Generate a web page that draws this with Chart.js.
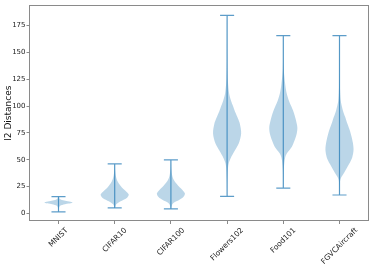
<!DOCTYPE html>
<html>
<head>
<meta charset="utf-8">
<script src="https://cdn.jsdelivr.net/npm/chart.js@4/dist/chart.umd.min.js"></script>
<style>
  html, body { margin: 0; padding: 0; background: #fff; }
  #wrap { width: 374px; height: 267px; }
</style>
</head>
<body>
<div id="wrap"><canvas id="violins"></canvas></div>
<script>
// categories and whisker ends (min / max)
const categories = ['MNIST', 'CIFAR10', 'CIFAR100', 'Flowers102', 'Food101', 'FGVCAircraft'];
const positions = [1, 2, 3, 4, 5, 6];
const minValues = [1.5, 5.2, 4.3, 16, 23.7, 17.2];
const maxValues = [15.7, 46.3, 50, 184.5, 165.7, 165.7];
const yTicks = [0, 25, 50, 75, 100, 125, 150, 175];

// violin outlines: value levels + relative half-width (1 = widest)
const mnistLevels = [1.5, 5, 7, 8.5, 10.2, 12, 13.5, 15.7];
const mnistDensity = [0.01, 0.03, 0.1, 0.45, 1, 0.4, 0.1, 0.02];
const cifar10Levels = [5.2, 8, 10, 12.5, 15, 17.6, 20, 23, 26, 30, 35, 40, 46.3];
const cifar10Density = [0.02, 0.08, 0.25, 0.6, 0.9, 1, 0.85, 0.6, 0.4, 0.2, 0.08, 0.03, 0.01];
const cifar100Levels = [4.3, 8, 10, 12.5, 15.5, 18.5, 21.5, 24.5, 27.5, 31, 35, 42, 50];
const cifar100Density = [0.02, 0.08, 0.2, 0.58, 0.9, 1, 0.85, 0.62, 0.42, 0.22, 0.1, 0.03, 0.01];
const flowersLevels = [16, 30, 42, 47, 52, 58, 65, 74.6, 84, 89, 95, 100, 105, 112, 125, 145, 184.5];
const flowersDensity = [0.01, 0.02, 0.06, 0.12, 0.27, 0.52, 0.82, 1, 0.9, 0.76, 0.56, 0.42, 0.28, 0.14, 0.05, 0.02, 0.01];
const foodLevels = [23.7, 40, 48, 52, 56, 62, 68, 74, 80.2, 88, 95, 100, 105, 112, 120, 135, 165.7];
const foodDensity = [0.01, 0.03, 0.08, 0.13, 0.26, 0.6, 0.8, 0.95, 1, 0.88, 0.72, 0.56, 0.4, 0.24, 0.14, 0.03, 0.01];
const fgvcLevels = [17.2, 28, 32, 36, 40, 46, 52, 59.3, 66, 72, 78, 84, 90, 96, 105, 120, 140, 165.7];
const fgvcDensity = [0.01, 0.03, 0.07, 0.24, 0.42, 0.68, 0.9, 1, 0.95, 0.85, 0.72, 0.55, 0.4, 0.24, 0.09, 0.03, 0.015, 0.01];

const allLevels = [mnistLevels, cifar10Levels, cifar100Levels, flowersLevels, foodLevels, fgvcLevels];
const allDensity = [mnistDensity, cifar10Density, cifar100Density, flowersDensity, foodDensity, fgvcDensity];

const halfWidth = 0.25;   // widest point of each violin
const capHalf = 0.125;    // whisker caps
const bodyFill = 'rgba(31,119,180,0.3)';
const lineColor = 'rgba(31,119,180,0.72)';

// build closed outline for each violin
function outline(i) {
  const p = positions[i], lv = allLevels[i], dn = allDensity[i];
  const pts = [];
  for (let k = 0; k < lv.length; k++) pts.push({ x: p + halfWidth * dn[k], y: lv[k] });
  for (let k = lv.length - 1; k >= 0; k--) pts.push({ x: p - halfWidth * dn[k], y: lv[k] });
  return pts;
}

// stem + two caps, broken with null gaps
function whiskers(i) {
  const p = positions[i];
  return [
    { x: p, y: minValues[i] }, { x: p, y: maxValues[i] }, { x: p, y: null },
    { x: p - capHalf, y: minValues[i] }, { x: p + capHalf, y: minValues[i] }, { x: p, y: null },
    { x: p - capHalf, y: maxValues[i] }, { x: p + capHalf, y: maxValues[i] }
  ];
}

const datasets = [];
categories.forEach((c, i) => {
  datasets.push({
    label: c + ' lines',
    data: whiskers(i),
    borderColor: lineColor,
    borderWidth: 1.2,
    pointRadius: 0,
    spanGaps: false,
    fill: false,
    order: 0
  });
  datasets.push({
    label: c,
    data: outline(i),
    borderColor: 'rgba(0,0,0,0)',
    backgroundColor: bodyFill,
    pointRadius: 0,
    tension: 0.3,
    fill: 'shape',
    order: 1
  });
});

// box frame + rotated category labels centred under their ticks
const framePlugin = {
  id: 'frame',
  afterDraw(chart) {
    const { ctx, chartArea: a, scales } = chart;
    ctx.save();
    ctx.strokeStyle = '#8a8a8a';
    ctx.lineWidth = 1;
    ctx.strokeRect(Math.round(a.left) + 0.5, Math.round(a.top) + 0.5,
      Math.round(a.right - a.left) - 1, Math.round(a.bottom - a.top) - 1);
    ctx.fillStyle = '#222';
    ctx.font = '7.5px "DejaVu Sans"';
    ctx.textAlign = 'center';
    ctx.textBaseline = 'middle';
    categories.forEach((c, i) => {
      const px = scales.x.getPixelForValue(positions[i]);
      const w = ctx.measureText(c).width;
      const cy = a.bottom + 5.5 + (w + 7.5) * 0.3536;
      ctx.save();
      ctx.translate(px, cy);
      ctx.rotate(-Math.PI / 4);
      ctx.fillText(c, 0, 0);
      ctx.restore();
    });
    ctx.restore();
  }
};

new Chart(document.getElementById('violins'), {
  type: 'line',
  data: { datasets },
  options: {
    responsive: true,
    maintainAspectRatio: false,
    animation: false,
    layout: { padding: { top: 4, right: 5, left: 3, bottom: 0 } },
    plugins: {
      legend: { display: false },
      tooltip: { enabled: false }
    },
    scales: {
      x: {
        type: 'linear',
        min: 0.475,
        max: 6.525,
        afterBuildTicks: s => { s.ticks = positions.map(v => ({ value: v })); },
        afterFit: s => { s.height = 46; },
        ticks: { display: false },
        grid: { drawOnChartArea: false, tickLength: 3, color: '#8a8a8a' },
        border: { display: false }
      },
      y: {
        min: -7,
        max: 194,
        afterBuildTicks: s => { s.ticks = yTicks.map(v => ({ value: v })); },
        afterFit: s => { s.width = 26; },
        ticks: { color: '#222', padding: 1, font: { family: 'DejaVu Sans', size: 7 } },
        grid: { drawOnChartArea: false, tickLength: 2.5, color: '#8a8a8a' },
        border: { display: false },
        title: {
          display: true,
          text: 'l2 Distances',
          color: '#111',
          padding: { top: 0, bottom: 0 },
          font: { family: 'DejaVu Sans', size: 9 }
        }
      }
    }
  },
  plugins: [framePlugin]
});
</script>
</body>
</html>
